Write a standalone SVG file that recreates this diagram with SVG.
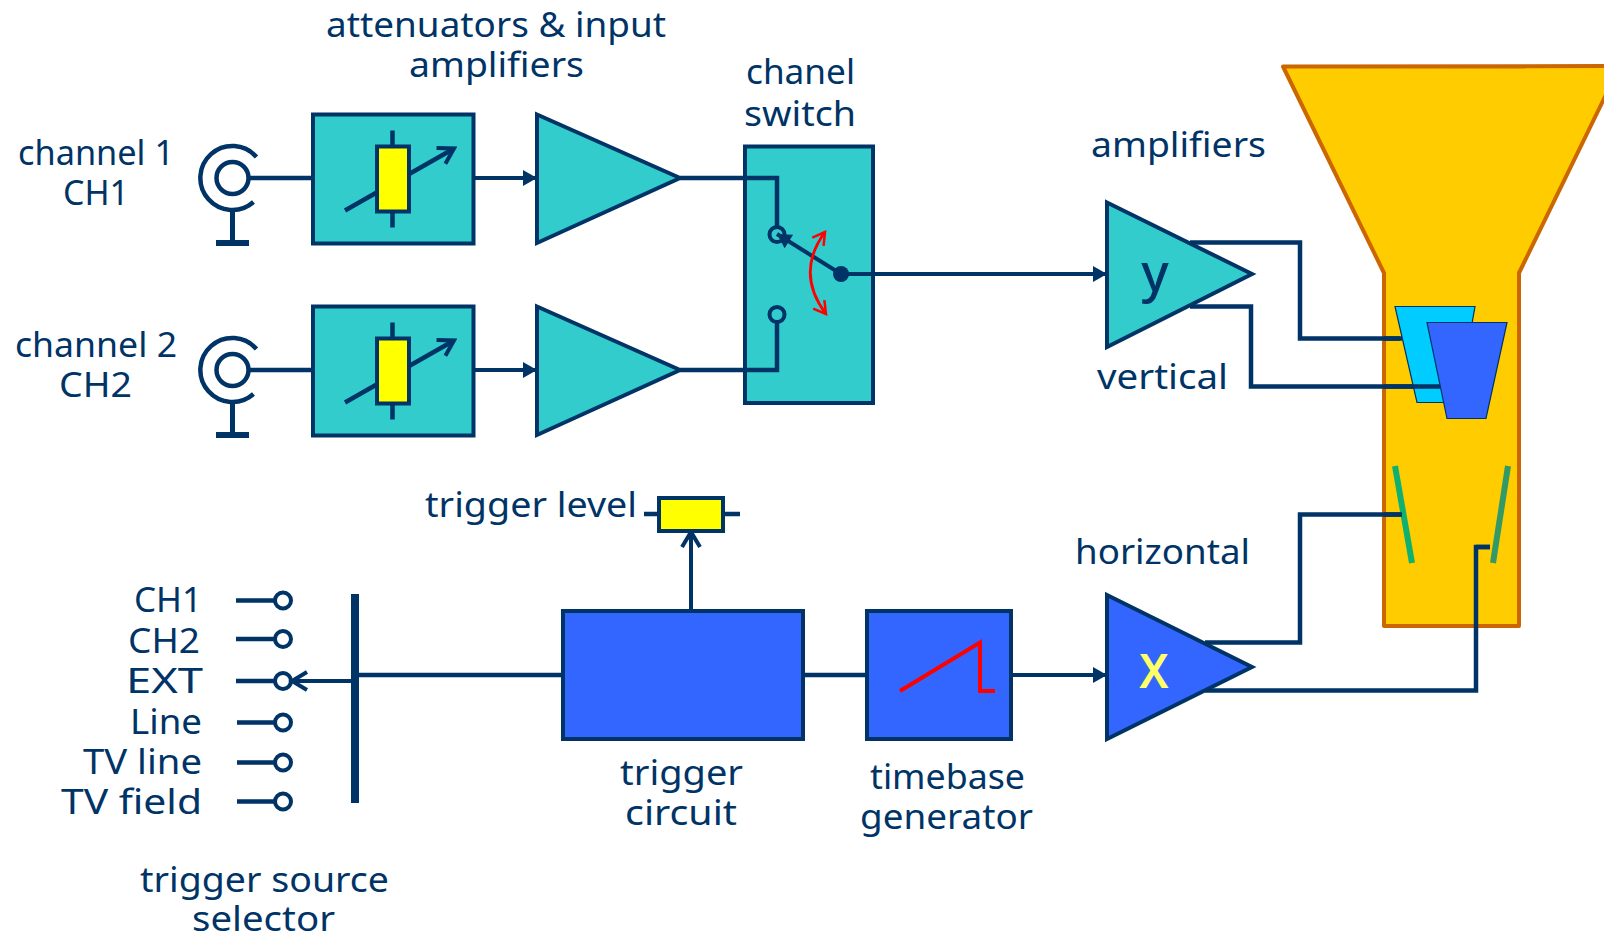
<svg xmlns="http://www.w3.org/2000/svg" width="1604" height="937" viewBox="0 0 1604 937">
<style>
text{font-family:"Noto Sans","DejaVu Sans",sans-serif;font-size:35px;fill:#003366}
.box{stroke:#003366;stroke-width:4}
.teal{fill:#33cccc}.blue{fill:#3366ff}.yel{fill:#ffff00;stroke:#003366;stroke-width:4}
.ln{fill:none;stroke:#003366;stroke-width:4.500}
.thin{fill:none;stroke:#003366;stroke-width:4}
.sel{fill:none;stroke:#003366;stroke-width:4}
.plate{stroke:#003366;stroke-width:1.2}
</style>
<defs>
<marker id="tip" markerUnits="userSpaceOnUse" markerWidth="16" markerHeight="18" refX="15" refY="9" orient="auto"><path d="M1 1L15 9L1 17Z" fill="#003366"/></marker>
<marker id="open" markerUnits="userSpaceOnUse" markerWidth="24" markerHeight="24" refX="20" refY="12" orient="auto"><path d="M5 3L20 12L5 21" fill="none" stroke="#003366" stroke-width="4"/></marker>
<marker id="red" markerUnits="userSpaceOnUse" markerWidth="20" markerHeight="20" refX="16" refY="10" orient="auto-start-reverse"><path d="M4 3L16 10L4 17" fill="none" stroke="#ff0000" stroke-width="2.500"/></marker>
<g id="bnc">
<circle cx="0" cy="0" r="16" fill="none" stroke="#003366" stroke-width="4.500"/>
<path d="M24 -21A32 32 0 1 0 21 24" fill="none" stroke="#003366" stroke-width="4.500"/>
<path d="M0 32V65" fill="none" stroke="#003366" stroke-width="5"/>
<path d="M-16.500 65H16.500" fill="none" stroke="#003366" stroke-width="6"/>
</g>
<g id="att">
<rect class="box teal" x="313" y="0" width="160.500" height="129"/>
<path d="M392.500 16V113M345 96L454 34" class="ln" marker-end="url(#open)"/>
<rect class="yel" x="377" y="32" width="32" height="65"/>
</g>
</defs>
<g id="crt">
<path d="M1283 66.500L1620 66L1519 273V626H1384V273Z" fill="#ffcc00" stroke="#cc6600" stroke-width="4" stroke-linejoin="round"/>
</g>
<g id="connectors">
<path class="ln" d="M1190 242.500H1300V338.500H1400"/>
<path class="ln" d="M1190 306.500H1251V386.500H1442"/>
<path class="ln" d="M1205 642.500H1300V514.500H1402"/>
<path class="ln" d="M1205 690.500H1476V547H1490"/>
</g>
<g id="plates">
<path class="plate" fill="#00ccff" d="M1395 306.500H1475L1458 402.500H1417Z"/>
<path class="ln" d="M1384 338.500H1402M1384 386.500H1442"/>
<path class="plate" fill="#3366ff" d="M1427 322.500H1507L1486 418.500H1447Z"/>
<path d="M1395 466L1412 563" stroke="#10b070" stroke-width="6" fill="none"/>
<path d="M1508 466L1493 563" stroke="#339966" stroke-width="6" fill="none"/>
<path class="ln" d="M1384 514.500H1402M1476 547H1490"/>
</g>
<g id="ch1-input"><use href="#bnc" x="232.500" y="178"/></g>
<g id="ch2-input"><use href="#bnc" x="232.500" y="370"/></g>
<g id="att1"><use href="#att" y="114.500"/></g>
<g id="att2"><use href="#att" y="306.500"/></g>
<g id="amp1"><path class="box teal" d="M537 114.500L680 178L537 243Z"/></g>
<g id="amp2"><path class="box teal" d="M537 306.500L680 370L537 435Z"/></g>
<g id="switch">
<rect class="box teal" x="745" y="146.500" width="128" height="256.500"/>
<circle cx="777" cy="234.500" r="7.500" fill="none" stroke="#003366" stroke-width="4"/>
<circle cx="777" cy="314.500" r="7.500" fill="none" stroke="#003366" stroke-width="4"/>
<circle cx="841" cy="274" r="8" fill="#003366"/>
<path d="M841 274L777 234" class="thin" marker-end="url(#tip)"/>
<path d="M825 232Q795 273 826 314" fill="none" stroke="#ff0000" stroke-width="2.800" marker-start="url(#red)" marker-end="url(#red)"/>
</g>
<g id="connectors2">
<path class="ln" d="M250 178H313M250 370H313"/>
<path class="thin" d="M473 178H537" marker-end="url(#tip)"/>
<path class="thin" d="M473 370H537" marker-end="url(#tip)"/>
<path class="ln" d="M680 178H777V226M680 370H777V322"/>
<path class="thin" d="M841 274H1107" marker-end="url(#tip)"/>
<path class="thin" d="M1011 675H1107" marker-end="url(#tip)"/>
<path class="ln" d="M355 675H563M803 675H866"/>
<path class="thin" d="M355 681H292" marker-end="url(#open)"/>
<path class="thin" d="M691 611V532" marker-end="url(#open)"/>
</g>
<g id="amp-y"><path class="box teal" d="M1107 202.500L1252 274L1107 347Z"/><text x="1155" y="291" text-anchor="middle" style="font-size:52px;font-weight:500">y</text></g>
<g id="amp-x"><path class="box blue" d="M1107 595L1252 667L1107 739Z"/><text x="1154" y="688" text-anchor="middle" style="font-size:46px;font-weight:600;fill:#ffff66">X</text></g>
<g id="trigger-circuit"><rect class="box blue" x="563" y="611" width="240" height="128"/></g>
<g id="timebase"><rect class="box blue" x="867" y="611" width="144" height="128"/><path d="M900 691L980 642.500V691H995" fill="none" stroke="#ff0000" stroke-width="4"/></g>
<g id="trigger-level"><path class="ln" d="M644 514H740"/><rect class="yel" x="659" y="498" width="64" height="33"/></g>
<g id="selector">
<path d="M355 594V803" stroke="#003366" stroke-width="8" fill="none"/>
<path class="ln" d="M236 600.500H275M236 639H275M236 681H275M237 722.500H275M237 762.500H275M237 801.500H275"/>
<circle class="sel" cx="283" cy="600.500" r="8"/><circle class="sel" cx="283" cy="639" r="8"/><circle class="sel" cx="283" cy="681" r="8"/><circle class="sel" cx="283" cy="722.500" r="8"/><circle class="sel" cx="283" cy="762.500" r="8"/><circle class="sel" cx="283" cy="801.500" r="8"/>
</g>
<g id="labels">
<text x="326" y="37" textLength="340" lengthAdjust="spacingAndGlyphs">attenuators &amp; input</text>
<text x="409" y="77" textLength="175" lengthAdjust="spacingAndGlyphs">amplifiers</text>
<text x="746" y="84" textLength="109" lengthAdjust="spacingAndGlyphs">chanel</text>
<text x="744" y="126" textLength="112" lengthAdjust="spacingAndGlyphs">switch</text>
<text x="1091" y="157" textLength="175" lengthAdjust="spacingAndGlyphs">amplifiers</text>
<text x="1097" y="389" textLength="131" lengthAdjust="spacingAndGlyphs">vertical</text>
<text x="18" y="165" textLength="156" lengthAdjust="spacingAndGlyphs">channel 1</text>
<text x="63" y="205" textLength="66" lengthAdjust="spacingAndGlyphs">CH1</text>
<text x="15" y="357" textLength="162" lengthAdjust="spacingAndGlyphs">channel 2</text>
<text x="59" y="397" textLength="73" lengthAdjust="spacingAndGlyphs">CH2</text>
<text x="425" y="517" textLength="212" lengthAdjust="spacingAndGlyphs">trigger level</text>
<text x="134" y="612" textLength="68" lengthAdjust="spacingAndGlyphs">CH1</text>
<text x="128" y="653" textLength="72" lengthAdjust="spacingAndGlyphs">CH2</text>
<text x="126" y="693" textLength="77" lengthAdjust="spacingAndGlyphs">EXT</text>
<text x="130" y="734" textLength="72" lengthAdjust="spacingAndGlyphs">Line</text>
<text x="83" y="774" textLength="119" lengthAdjust="spacingAndGlyphs">TV line</text>
<text x="61" y="814" textLength="141" lengthAdjust="spacingAndGlyphs">TV field</text>
<text x="140" y="892" textLength="249" lengthAdjust="spacingAndGlyphs">trigger source</text>
<text x="192" y="931" textLength="143" lengthAdjust="spacingAndGlyphs">selector</text>
<text x="620" y="785" textLength="123" lengthAdjust="spacingAndGlyphs">trigger</text>
<text x="625" y="825" textLength="112" lengthAdjust="spacingAndGlyphs">circuit</text>
<text x="870" y="789" textLength="155" lengthAdjust="spacingAndGlyphs">timebase</text>
<text x="860" y="829" textLength="173" lengthAdjust="spacingAndGlyphs">generator</text>
<text x="1075" y="564" textLength="175" lengthAdjust="spacingAndGlyphs">horizontal</text>
</g>
</svg>
